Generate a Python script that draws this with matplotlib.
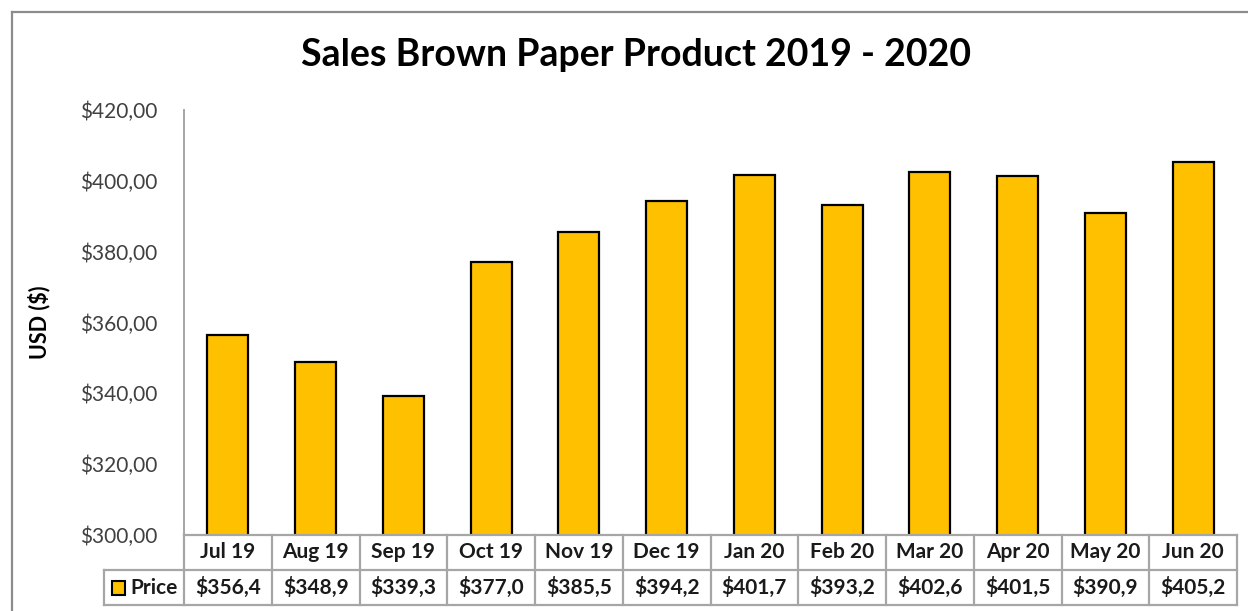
import matplotlib.pyplot as plt
import matplotlib.transforms as mtransforms
from matplotlib.lines import Line2D
from matplotlib.patches import Rectangle

plt.rcParams["font.family"] = ["Lato", "DejaVu Sans"]

months = ["Jul 19", "Aug 19", "Sep 19", "Oct 19", "Nov 19", "Dec 19",
          "Jan 20", "Feb 20", "Mar 20", "Apr 20", "May 20", "Jun 20"]
price = [356.4, 348.9, 339.3, 377.0, 385.5, 394.2,
         401.7, 393.2, 402.6, 401.5, 390.9, 405.2]
y_ticks = [300, 320, 340, 360, 380, 400, 420]

W, H = 1248, 611
BAR = "#FFC000"
GRID = "#A6A6A6"
TXT = "#1a1a1a"

fig = plt.figure(figsize=(W / 100, H / 100), dpi=100)


def fx(px):
    return px / W


def fy(py):
    return 1 - py / H


# chart border (cropped at right and bottom in the source)
fig.add_artist(Line2D([fx(12), fx(12)], [fy(12), 0], color="#8C8C8C", lw=1.6,
                      transform=fig.transFigure))
fig.add_artist(Line2D([fx(12), 1], [fy(12), fy(12)], color="#8C8C8C", lw=1.6,
                      transform=fig.transFigure))

left, right, top, bottom = 184, 1237, 110, 535
ax = fig.add_axes([fx(left), fy(bottom), fx(right - left), fy(top) - fy(bottom)])

x = list(range(len(months)))
ax.bar(x, price, width=0.47, color=BAR, edgecolor="black", linewidth=1.6, zorder=3)
ax.set_xlim(-0.5, len(months) - 0.5)
ax.set_ylim(300, 420)
ax.set_yticks(y_ticks)
ax.set_yticklabels([f"${v:.2f}".replace(".", ",") for v in y_ticks],
                   fontsize=15, color="#404040")
ax.tick_params(axis="y", length=0, pad=19)
ax.set_xticks([])
for side in ("top", "right", "bottom"):
    ax.spines[side].set_visible(False)
ax.spines["left"].set_color(GRID)
ax.spines["left"].set_linewidth(1.4)

ax.set_ylabel("USD ($)", fontsize=15.5, fontweight="bold")
ax.yaxis.set_label_coords(-0.127, 0.5)

fig.text(0.51, fy(55), "Sales Brown Paper Product 2019 - 2020", ha="center",
         va="center", fontsize=27, fontweight="bold")

# data table below the plot
trans = mtransforms.blended_transform_factory(ax.transData, fig.transFigure)
row1, row2, row3 = fy(535), fy(570), fy(605)
edges = [i - 0.5 for i in range(len(months) + 1)]
legend_left = -0.5 - (left - 104) / ((right - left) / len(months))

line_kw = dict(color=GRID, lw=1.6, transform=trans, clip_on=False)
fig.add_artist(Line2D([edges[0], edges[-1]], [row1, row1], **line_kw))
fig.add_artist(Line2D([legend_left, edges[-1]], [row2, row2], **line_kw))
fig.add_artist(Line2D([legend_left, edges[-1]], [row3, row3], **line_kw))
fig.add_artist(Line2D([legend_left, legend_left], [row2, row3], **line_kw))
for e in edges:
    fig.add_artist(Line2D([e, e], [row1, row3], **line_kw))

for i, (m, v) in enumerate(zip(months, price)):
    fig.text(i, (row1 + row2) / 2, m, transform=trans, ha="center", va="center",
             fontsize=15, fontweight="bold", color=TXT)
    fig.text(i, (row2 + row3) / 2, f"${v:.1f}".replace(".", ","), transform=trans,
             ha="center", va="center", fontsize=15, fontweight="bold", color=TXT)

fig.add_artist(Rectangle((fx(112), fy(595)), fx(13), fy(581) - fy(595),
                         facecolor=BAR, edgecolor="black", lw=1.5,
                         transform=fig.transFigure))
fig.text(fx(130), (row2 + row3) / 2, "Price", ha="left", va="center",
         fontsize=15, fontweight="bold", color=TXT)

fig.savefig("out.png", dpi=100)
